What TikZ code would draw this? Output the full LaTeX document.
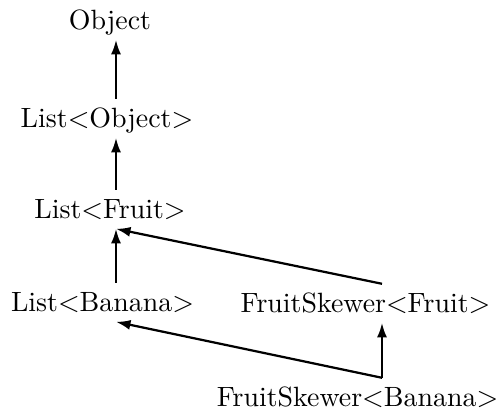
\documentclass[tikz,border=0pt]{standalone}
\usepackage{tikz}
\usetikzlibrary{arrows.meta}

\begin{document}
\begin{tikzpicture}[x=0.0126cm, y=-0.0126cm,
    cls/.style={anchor=base, text height=6.94pt, text depth=0pt},
    isa/.style={thick, -{Latex[length=5.2pt,width=3.6pt]}}]
  \useasboundingbox (0,0) rectangle (500,411);
  % Class nodes, placed at their baselines
  \node[cls] (obj)  at (110,30)  {Object};
  \node[cls] (lobj) at (107,128) {List$<$Object$>$};
  \node[cls] (lfr)  at (110,219) {List$<$Fruit$>$};
  \node[cls] (lban) at (102.5,312) {List$<$Banana$>$};
  \node[cls] (sfr)  at (365.5,313) {FruitSkewer$<$Fruit$>$};
  \node[cls] (sban) at (357.5,407) {FruitSkewer$<$Banana$>$};
  % Columns the arrows run along
  \coordinate (lcol) at (116,0);
  \coordinate (rcol) at (382,0);
  % Subtype arrows
  \draw[isa] (lobj.north -| lcol) -- (obj.south -| lcol);
  \draw[isa] (lfr.north -| lcol) -- (lobj.south -| lcol);
  \draw[isa] (lban.north -| lcol) -- (lfr.south -| lcol);
  \draw[isa] (sfr.north -| rcol) -- (lfr.south -| lcol);
  \draw[isa] (sban.north -| rcol) -- (sfr.south -| rcol);
  \draw[isa] (sban.north -| rcol) -- (lban.south -| lcol);
\end{tikzpicture}
\end{document}
